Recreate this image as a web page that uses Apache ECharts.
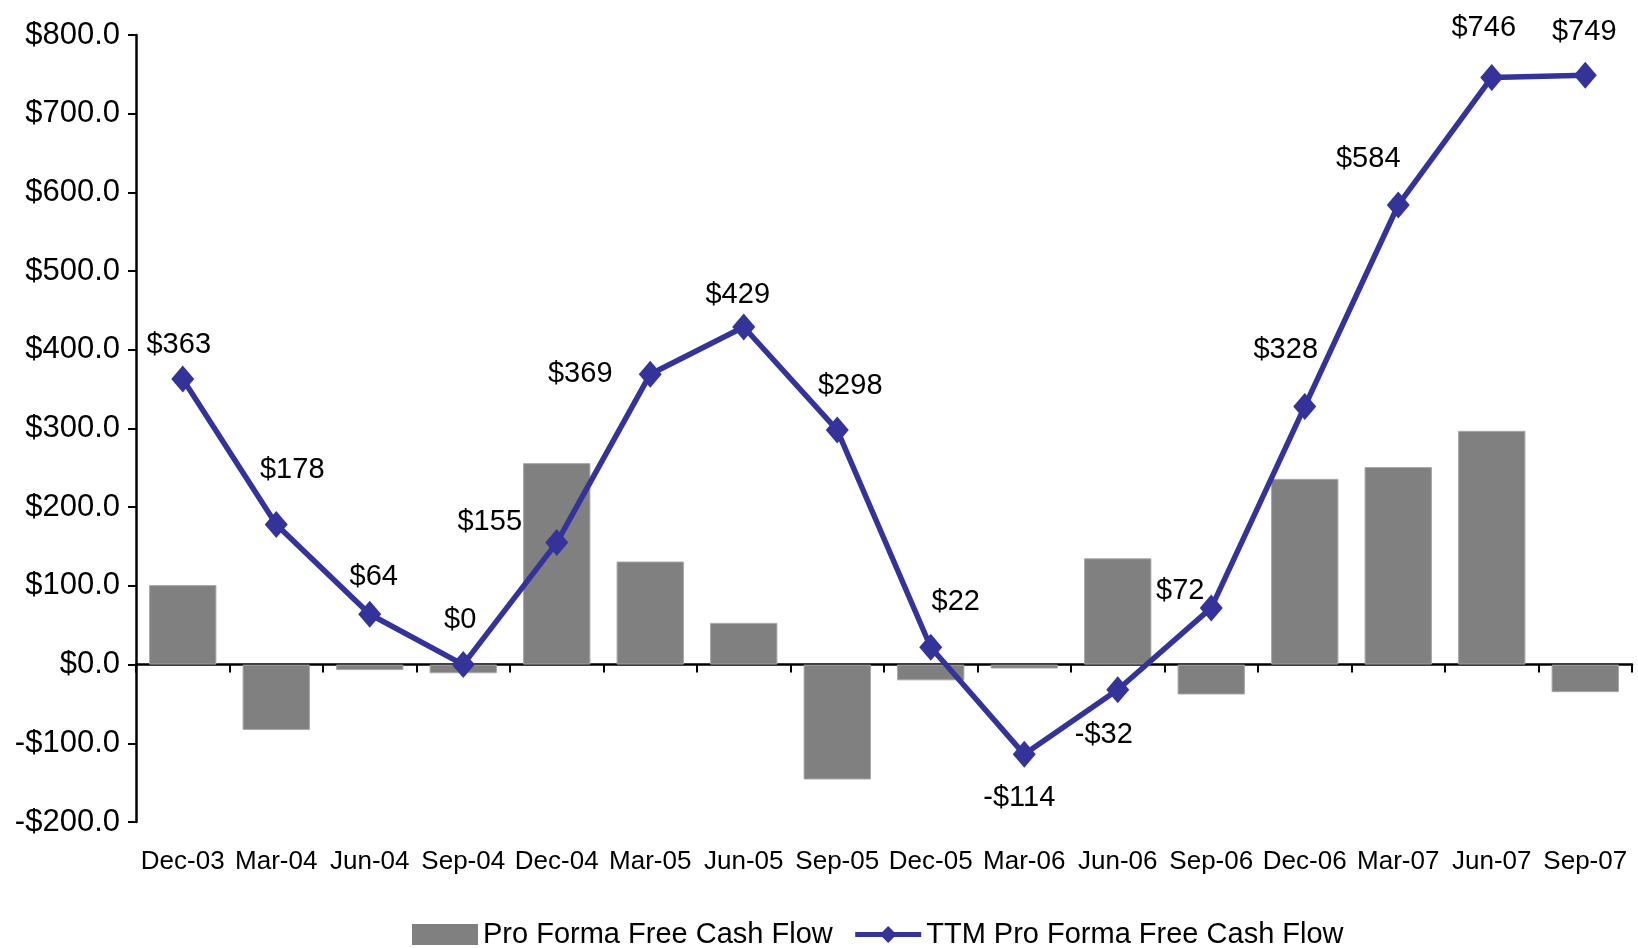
<!DOCTYPE html>
<html>
<head>
<meta charset="utf-8">
<script src="https://cdn.jsdelivr.net/npm/echarts@6/dist/echarts.min.js"></script>
<style>
  html, body { margin: 0; padding: 0; background: #fff; }
  #main { width: 1638px; height: 948px; }
</style>
</head>
<body>
<div id="main"></div>
<script>
var quarters = ['Dec-03', 'Mar-04', 'Jun-04', 'Sep-04', 'Dec-04', 'Mar-05', 'Jun-05', 'Sep-05',
                'Dec-05', 'Mar-06', 'Jun-06', 'Sep-06', 'Dec-06', 'Mar-07', 'Jun-07', 'Sep-07'];
// quarterly pro forma free cash flow
var quarterlyFcf = [101, -83, -7, -11, 256, 131, 53, -146, -20, -5, 135, -38, 236, 251, 297, -35];
// trailing twelve months
var ttmFcf = [363, 178, 64, 0, 155, 369, 429, 298, 22, -114, -32, 72, 328, 584, 746, 749];
var yTicks = [-200, -100, 0, 100, 200, 300, 400, 500, 600, 700, 800];

// label offsets (px) relative to each diamond
var labelOffsets = [[-4, -34], [16, -55], [4, -37], [-3, -45], [-67, -21], [-70, 0], [-6, -32], [13, -44],
                    [25, -45], [-5, 44], [-14, 45], [-31, -17], [-19, -56], [-30, -46], [-8, -49], [-1, -43]];

var fontFam = '"Liberation Sans", Arial, sans-serif';

function money(v) {
  return (v < 0 ? '-$' : '$') + Math.abs(v);
}

var chart = echarts.init(document.getElementById('main'));

var lineData = ttmFcf.map(function (v, i) {
  return {
    value: v,
    label: { offset: labelOffsets[i] }
  };
});

chart.setOption({
  animation: false,
  textStyle: { fontFamily: fontFam },
  grid: { left: 136, right: 6, top: 35, bottom: 126, containLabel: false },
  legend: {
    bottom: -6,
    left: 407,
    itemWidth: 66,
    itemHeight: 21,
    itemGap: 20,
    textStyle: { fontSize: 29, color: '#000', fontFamily: fontFam },
    data: [
      { name: 'Pro Forma Free Cash Flow', icon: 'rect', itemStyle: { borderWidth: 0 } },
      { name: 'TTM Pro Forma Free Cash Flow', lineStyle: { width: 5 } }
    ]
  },
  xAxis: [
    {
      type: 'category',
      data: quarters,
      axisLine: { onZero: true, lineStyle: { color: '#000', width: 2.5 } },
      axisTick: { show: true, inside: false, length: 8, lineStyle: { color: '#000', width: 2 } },
      axisLabel: { show: false }
    },
    {
      type: 'category',
      data: quarters,
      position: 'bottom',
      axisLine: { show: false, onZero: false },
      axisTick: { show: false },
      axisLabel: { show: true, interval: 0, fontSize: 26, color: '#000', margin: 27, fontFamily: fontFam }
    }
  ],
  yAxis: {
    type: 'value',
    min: yTicks[0],
    max: yTicks[yTicks.length - 1],
    interval: 100,
    splitLine: { show: false },
    axisLine: { show: true, lineStyle: { color: '#000', width: 2.5 } },
    axisTick: { show: true, length: 8, lineStyle: { color: '#000', width: 2 } },
    axisLabel: {
      fontSize: 31,
      color: '#000',
      margin: 16,
      fontFamily: fontFam,
      formatter: function (v) {
        return (v < 0 ? '-$' : '$') + Math.abs(v).toFixed(1);
      }
    }
  },
  series: [
    {
      name: 'Pro Forma Free Cash Flow',
      type: 'bar',
      xAxisIndex: 0,
      data: quarterlyFcf,
      barCategoryGap: '28%',
      itemStyle: { color: '#808080', borderColor: '#a6a6a6', borderWidth: 1 },
      z: 1
    },
    {
      name: 'TTM Pro Forma Free Cash Flow',
      type: 'line',
      xAxisIndex: 0,
      data: lineData,
      symbol: 'diamond',
      symbolSize: [23, 27],
      lineStyle: { color: '#333399', width: 5.5 },
      itemStyle: { color: '#333399' },
      label: {
        show: true,
        position: 'inside',
        fontSize: 29,
        color: '#000',
        fontFamily: fontFam,
        formatter: function (p) { return money(p.value); }
      },
      z: 3
    }
  ]
});
</script>
</body>
</html>
